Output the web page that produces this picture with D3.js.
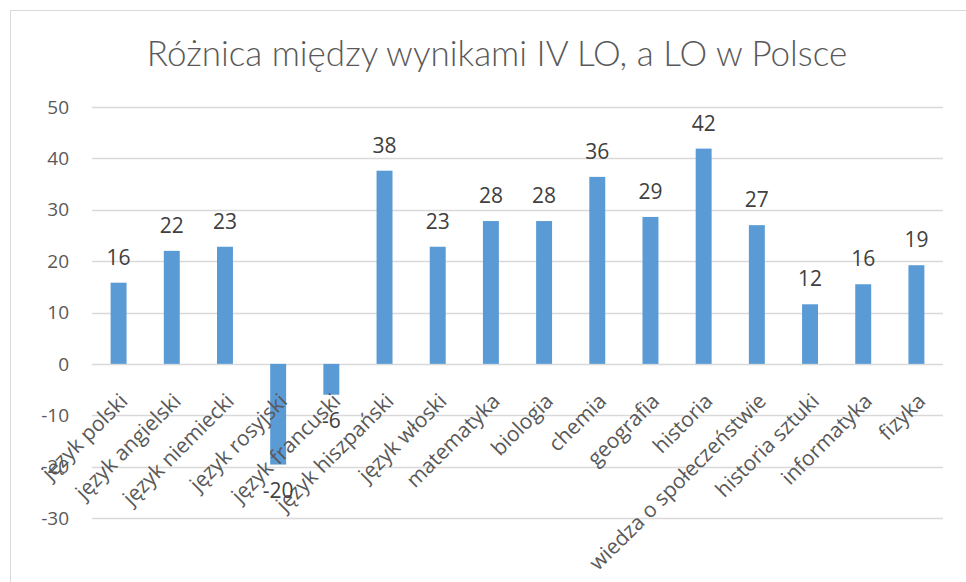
<!DOCTYPE html>
<html>
<meta charset="utf-8">
<head>
<script src="https://d3js.org/d3.v7.min.js"></script>
<style>
  body { margin: 0; background: #fff; }
  text { font-family: "Open Sans", "Liberation Sans", Arial, sans-serif; fill: #595959; }
  .title { font-family: Lato, "Open Sans", sans-serif; font-weight: 300; }
</style>
</head>
<body>
<div id="chart"></div>
<script>
// subjects (categories)
var subjects = ["język polski", "język angielski", "język niemiecki", "język rosyjski",
  "język francuski", "język hiszpański", "język włoski", "matematyka", "biologia",
  "chemia", "geografia", "historia", "wiedza o społeczeństwie", "historia sztuki",
  "informatyka", "fizyka"];

// difference IV LO vs LO in Poland
var differences = [15.8, 22, 22.8, -19.6, -6, 37.6, 22.8, 27.8, 27.8, 36.4, 28.6, 41.9, 27, 11.6, 15.5, 19.2];

// y axis ticks
var yTicks = [50, 40, 30, 20, 10, 0, -10, -20, -30];

var title = "Różnica między wynikami IV LO, a LO w Polsce";

var width = 966, height = 582;
var margin = {top: 107, right: 23, bottom: 64, left: 92};

var svg = d3.select("#chart").append("svg")
    .attr("width", width)
    .attr("height", height);

// chart frame
svg.append("rect")
    .attr("x", 10.5).attr("y", 10.5)
    .attr("width", 980).attr("height", 600)
    .attr("fill", "none")
    .attr("stroke", "#d9d9d9");

var x = d3.scaleBand()
    .domain(subjects)
    .range([margin.left, width - margin.right])
    .paddingInner(0.7)
    .paddingOuter(0.35);

var y = d3.scaleLinear()
    .domain([-30, 50])
    .range([518, 107]);

// gridlines
svg.append("g").selectAll("line")
    .data(yTicks)
    .enter().append("line")
    .attr("x1", margin.left)
    .attr("x2", width - margin.right)
    .attr("y1", function(d) { return Math.round(y(d)) + 0.5; })
    .attr("y2", function(d) { return Math.round(y(d)) + 0.5; })
    .attr("stroke", "#d9d9d9")
    .attr("stroke-width", 1.3);

// y tick labels
svg.append("g").selectAll("text")
    .data(yTicks)
    .enter().append("text")
    .attr("x", 69)
    .attr("y", function(d) { return y(d); })
    .attr("dy", "0.35em")
    .attr("text-anchor", "end")
    .style("font-size", "19px")
    .text(function(d) { return d; });

// bars
svg.append("g").selectAll("rect")
    .data(differences)
    .enter().append("rect")
    .attr("x", function(d, i) { return x(subjects[i]); })
    .attr("width", x.bandwidth())
    .attr("y", function(d) { return y(Math.max(0, d)); })
    .attr("height", function(d) { return Math.abs(y(d) - y(0)); })
    .attr("fill", "#5b9bd5");

// category labels, rotated
svg.append("g").selectAll("text")
    .data(subjects)
    .enter().append("text")
    .attr("text-anchor", "end")
    .attr("transform", function(d) {
      var cx = x(d) + x.bandwidth() / 2;
      return "translate(" + cx + ",392) rotate(-45)";
    })
    .attr("dy", "0.7em")
    .style("font-size", "21px")
    .text(function(d) { return d; });

// data labels (hyphen minus like the original)
svg.append("g").selectAll("text")
    .data(differences)
    .enter().append("text")
    .attr("x", function(d, i) { return x(subjects[i]) + x.bandwidth() / 2; })
    .attr("y", function(d) { return d >= 0 ? y(d) - 18 : y(d) + 33; })
    .attr("text-anchor", "middle")
    .style("font-size", "21px")
    .style("fill", "#404040")
    .text(function(d) { return String(Math.round(d)); });

// title
svg.append("text")
    .attr("class", "title")
    .attr("x", 497)
    .attr("y", 54)
    .attr("dy", "0.35em")
    .attr("text-anchor", "middle")
    .style("font-size", "35px")
    .text(title);
</script>
</body>
</html>
